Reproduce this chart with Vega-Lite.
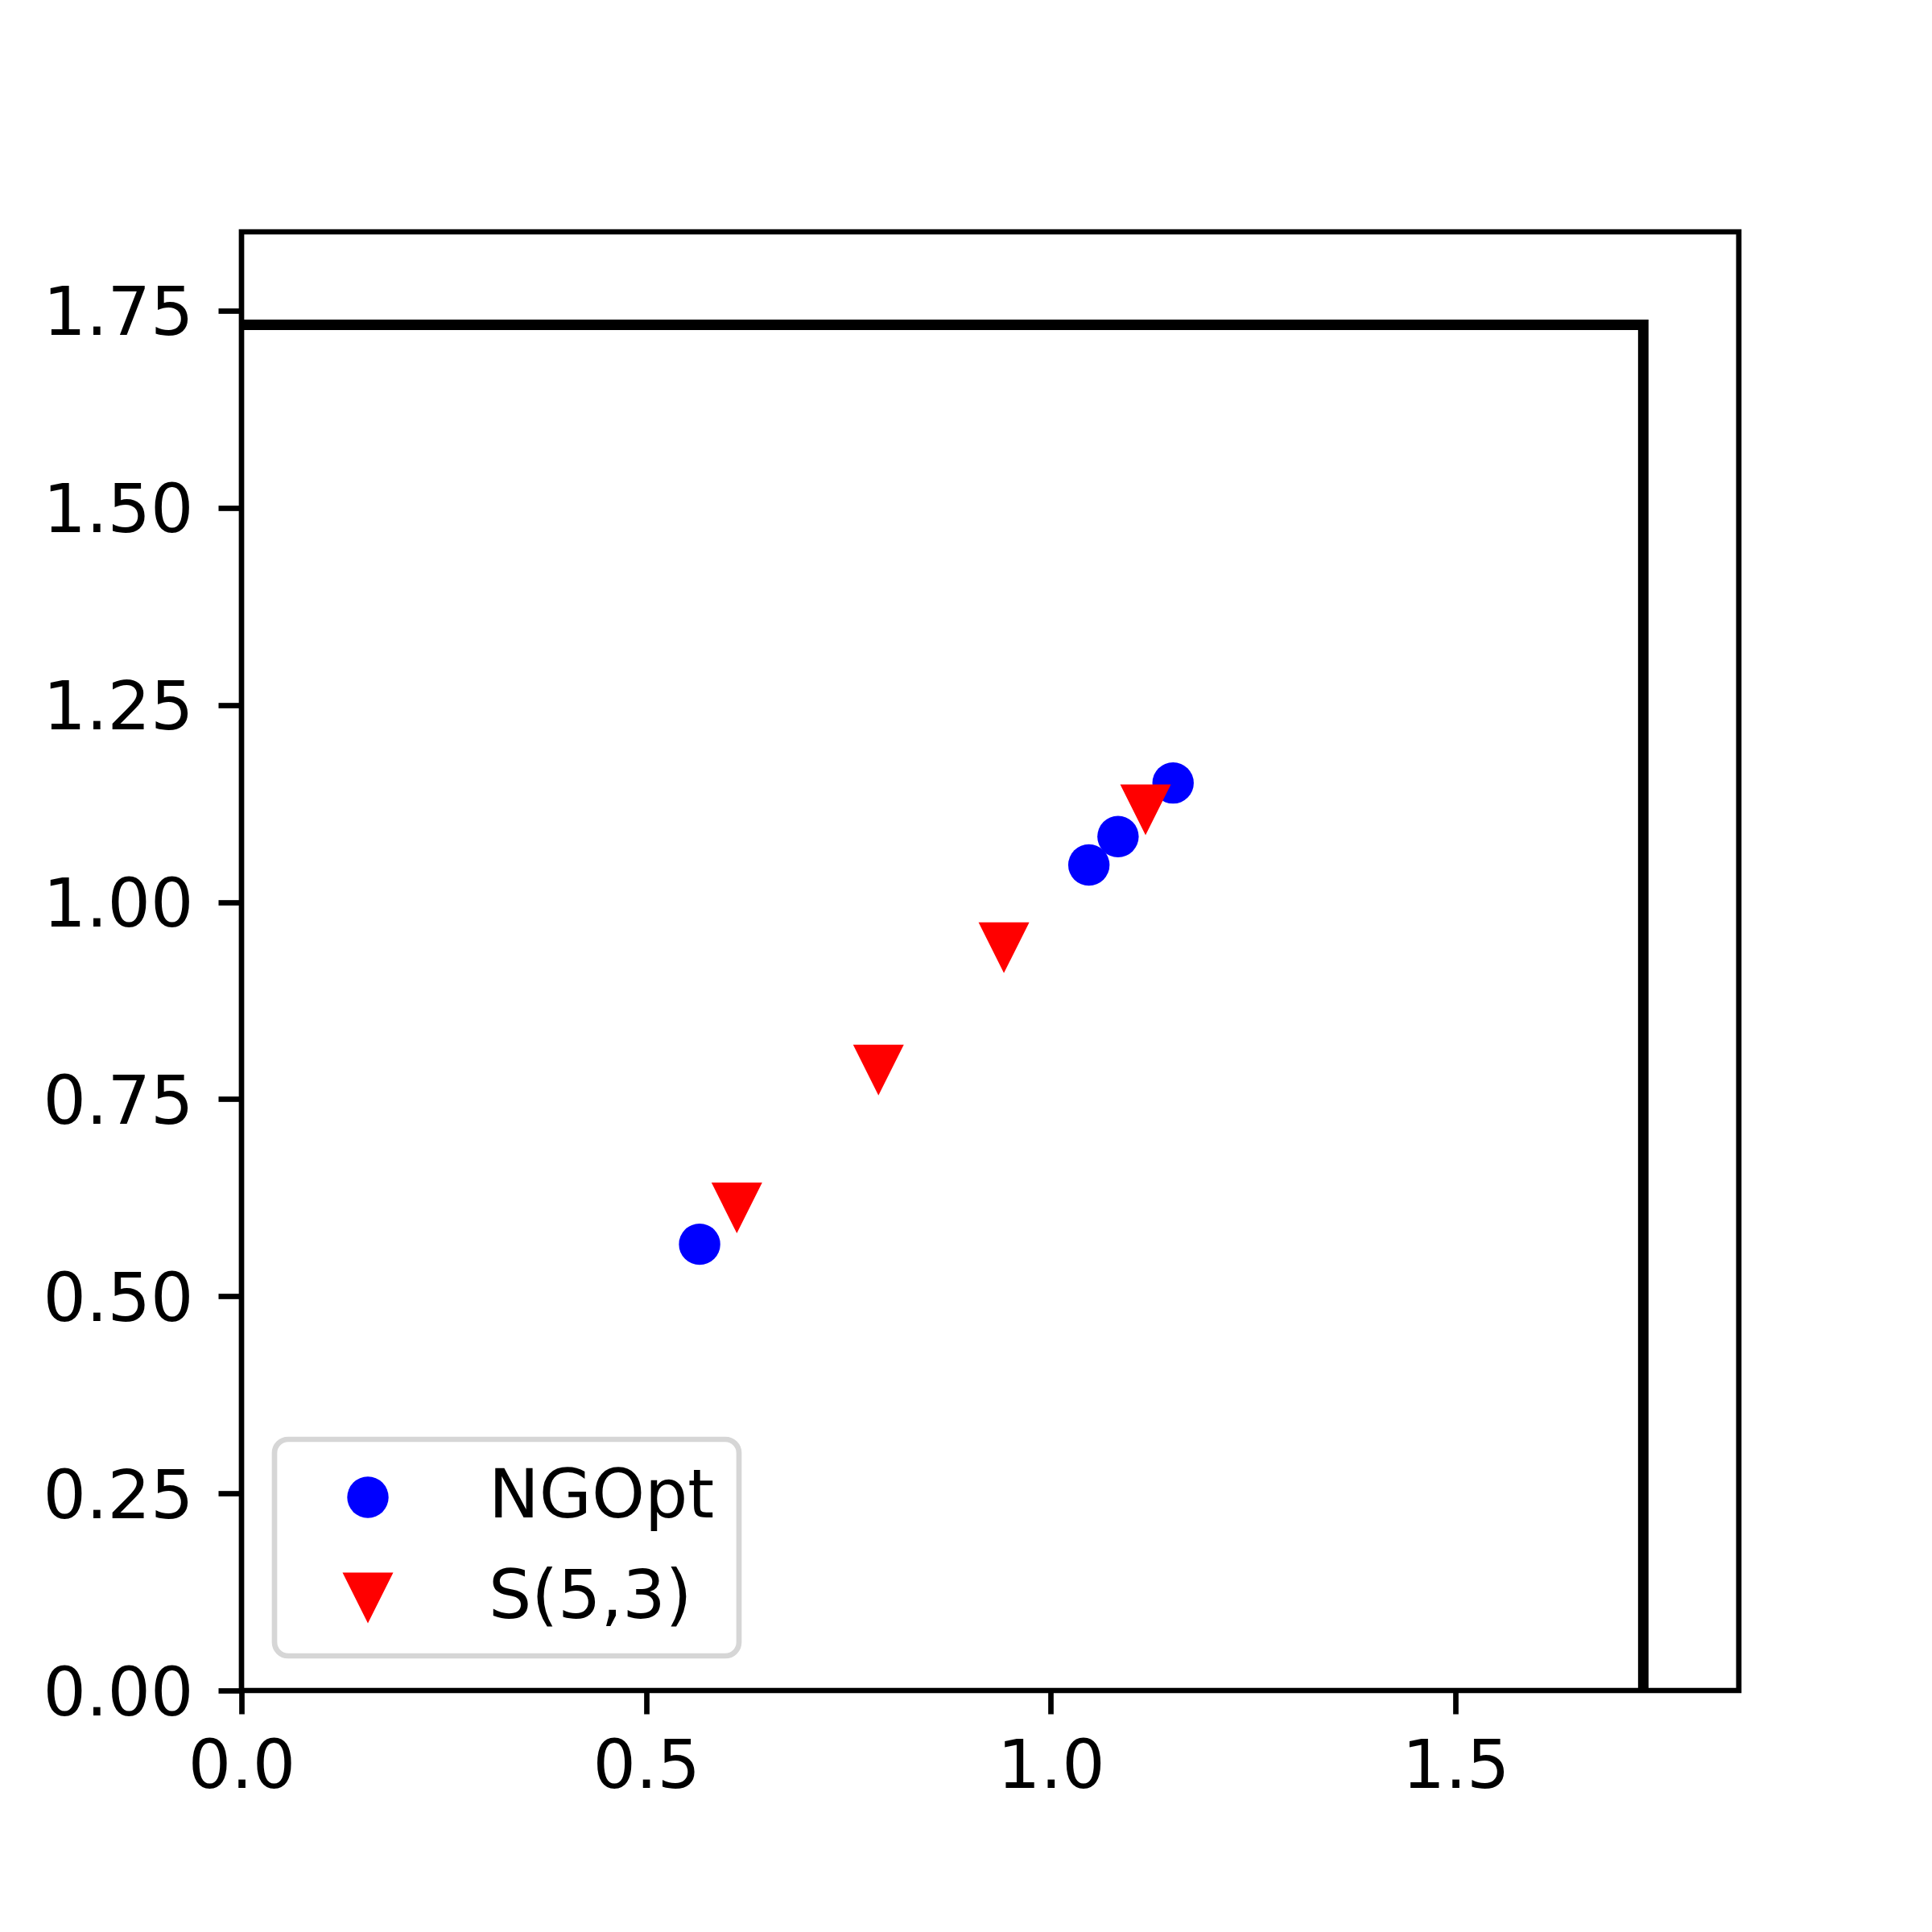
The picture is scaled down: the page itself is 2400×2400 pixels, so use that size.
{
  "$schema": "https://vega.github.io/schema/vega-lite/v6.json",
  "autosize": "none",
  "width": 1860,
  "height": 1812,
  "padding": {"left": 300, "top": 288, "right": 240, "bottom": 300},
  "background": "#ffffff",
  "datasets": {
    "points": [
      {"series": "NGOpt", "x": 0.566, "y": 0.566},
      {"series": "NGOpt", "x": 1.047, "y": 1.047},
      {"series": "NGOpt", "x": 1.083, "y": 1.083},
      {"series": "NGOpt", "x": 1.151, "y": 1.151},
      {"series": "S(5,3)", "x": 0.612, "y": 0.612},
      {"series": "S(5,3)", "x": 0.787, "y": 0.787},
      {"series": "S(5,3)", "x": 0.942, "y": 0.942},
      {"series": "S(5,3)", "x": 1.117, "y": 1.117}
    ],
    "bound": [
      {"o": 1, "x": 0, "y": 1.732},
      {"o": 2, "x": 1.732, "y": 1.732},
      {"o": 3, "x": 1.732, "y": 0}
    ]
  },
  "layer": [
    {
      "data": {"name": "bound"},
      "mark": {"type": "line", "color": "#000000", "strokeWidth": 13, "strokeJoin": "miter", "strokeCap": "square", "clip": true},
      "encoding": {
        "x": {"field": "x", "type": "quantitative", "scale": {"domain": [0, 1.85], "nice": false, "zero": false}, "axis": {"values": [0, 0.5, 1, 1.5], "format": ".1f", "title": null, "labelPadding": 25}},
        "y": {"field": "y", "type": "quantitative", "scale": {"domain": [0, 1.85], "nice": false, "zero": false}, "axis": {"values": [0, 0.25, 0.5, 0.75, 1, 1.25, 1.5, 1.75], "format": ".2f", "title": null, "labelPadding": 31, "labelOffset": 5}},
        "order": {"field": "o", "type": "quantitative"}
      }
    },
    {
      "data": {"name": "points"},
      "mark": {"type": "point", "filled": true, "opacity": 1, "strokeWidth": 0},
      "encoding": {
        "x": {"field": "x", "type": "quantitative"},
        "y": {"field": "y", "type": "quantitative"},
        "color": {"field": "series", "type": "nominal", "title": null, "scale": {"domain": ["NGOpt", "S(5,3)"], "range": ["#0000ff", "#ff0000"]}},
        "shape": {"field": "series", "type": "nominal", "title": null, "scale": {"domain": ["NGOpt", "S(5,3)"], "range": ["circle", "M-1,-1L1,-1L0,1Z"]}},
        "size": {"field": "series", "type": "nominal", "title": null, "scale": {"domain": ["NGOpt", "S(5,3)"], "range": [2642, 3969]}}
      }
    }
  ],
  "config": {
    "view": {"stroke": "#000000", "strokeWidth": 6.7, "fill": "#ffffff"},
    "axis": {
      "domain": false,
      "grid": false,
      "ticks": true,
      "tickColor": "#000000",
      "tickWidth": 6.7,
      "tickSize": 29,
      "labelFont": "DejaVu Sans",
      "labelFontSize": 84,
      "labelColor": "#000000",
      "labelLimit": 1000,
      "labelFlush": false,
      "labelOverlap": false,
      "labelBound": false
    },
    "legend": {
      "orient": "none",
      "legendX": 41,
      "legendY": 1500,
      "padding": 30,
      "strokeColor": "#d6d6d6",
      "strokeWidth": 6.7,
      "cornerRadius": 17,
      "fillColor": "#ffffff",
      "labelFont": "DejaVu Sans",
      "labelFontSize": 84,
      "labelColor": "#000000",
      "labelLimit": 1000,
      "symbolOffset": 44,
      "labelOffset": 108,
      "rowPadding": 41,
      "symbolStrokeWidth": 0,
      "symbolOpacity": 1
    }
  }
}
